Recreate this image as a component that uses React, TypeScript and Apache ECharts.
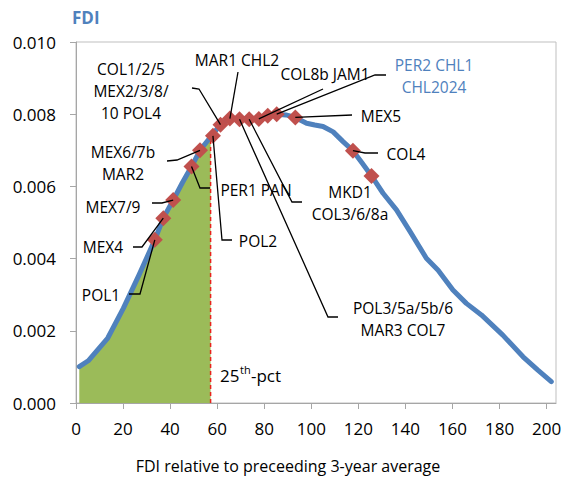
import { useEffect, useRef } from 'react';
import * as echarts from 'echarts';

// Density curve of FDI relative to the preceding 3-year average
const curveX = [1.4, 5.2, 13.5, 20.1, 26.8, 33.5, 37.1, 41.3, 45.2, 49.1, 52.7, 57.2, 61.4, 65.4, 69.5, 73.6, 77.7, 81.5, 85.3, 89.2, 93.2, 98.0, 101.5, 105.0, 109.3, 113.5, 117.7, 121.6, 125.6, 130.5, 136.2, 141.8, 148.9, 153.9, 160.2, 165.9, 172.3, 181.4, 190.0, 196.3, 202.0];
const curveY = [0.00101, 0.00117, 0.0018, 0.00262, 0.00355, 0.00452, 0.00512, 0.00562, 0.0061, 0.00655, 0.007, 0.00737, 0.00771, 0.00788, 0.00788, 0.00788, 0.00788, 0.00796, 0.008, 0.00798, 0.00791, 0.00775, 0.0077, 0.00766, 0.00751, 0.00724, 0.00699, 0.00665, 0.00629, 0.00581, 0.00535, 0.00477, 0.00401, 0.00368, 0.00313, 0.00276, 0.00244, 0.00188, 0.00128, 0.00091, 0.00059];

// Country episodes placed on the curve
const pointNames = ['POL1', 'MEX4', 'MEX7/9', 'PER1 PAN', 'MEX6/7b\nMAR2', 'POL2', 'COL1/2/5\nMEX2/3/8/\n10 POL4', 'MAR1 CHL2', 'POL3/5a/5b/6\nMAR3 COL7', 'MKD1\nCOL3/6/8a', 'COL8b JAM1', '', 'PER2 CHL1\nCHL2024', 'MEX5', 'COL4', ''];
const pointX = [33.5, 37.1, 41.3, 49.1, 52.7, 58.2, 61.4, 65.4, 69.5, 73.6, 77.7, 81.5, 85.3, 93.2, 117.7, 125.6];
const pointY = [0.00452, 0.00512, 0.00562, 0.00655, 0.007, 0.0074, 0.00771, 0.00788, 0.00786, 0.00786, 0.00787, 0.00796, 0.008, 0.00791, 0.00699, 0.00629];

// 25th percentile of the distribution
const pctX = 57.2;
const pctY = 0.00737;

const xTickValues = [0, 20, 40, 60, 80, 100, 120, 140, 160, 180, 200];

const FONT = '"Open Sans", "Noto Sans", sans-serif';
const BLUE = '#4f81bd';
const RED = '#c0504d';
const GREEN = '#9bbb59';
const AXIS = '#a6a6a6';

// Label placement (pixels): text centre and the leader's bend/end points, from the marker outward
const labelPlacement: { idx: number; cx: number; cy: number; leader: number[][]; color?: string }[] = [
  { idx: 0, cx: 101, cy: 295, leader: [[140, 294], [129, 294]] },
  { idx: 1, cx: 103, cy: 247, leader: [[142, 247], [133, 247]] },
  { idx: 2, cx: 113, cy: 207, leader: [[162, 203], [152, 203]] },
  { idx: 3, cx: 256, cy: 190, leader: [[200, 188], [210, 188]] },
  { idx: 4, cx: 123, cy: 163, leader: [[177, 160], [167, 161]] },
  { idx: 5, cx: 258, cy: 241, leader: [[222, 240], [232, 240]] },
  { idx: 6, cx: 131, cy: 91, leader: [[199, 89], [192, 88]] },
  { idx: 7, cx: 237, cy: 60, leader: [[238, 72]] },
  { idx: 8, cx: 403, cy: 319, leader: [[328, 317], [338, 317]] },
  { idx: 9, cx: 350, cy: 203, leader: [[292, 202], [302, 202]] },
  { idx: 10, cx: 325, cy: 74, leader: [[323, 89]] },
  { idx: 12, cx: 434, cy: 76, leader: [[375, 75], [386, 75]], color: BLUE },
  { idx: 13, cx: 381, cy: 116, leader: [[352, 115]] },
  { idx: 14, cx: 406, cy: 154, leader: [[365, 153], [378, 153]] },
];

export default function App() {
  const ref = useRef<HTMLDivElement>(null);

  useEffect(() => {
    if (!ref.current) return;
    const chart = echarts.init(ref.current, null, { renderer: 'svg' });

    const curve = curveX.map((x, i) => [x, curveY[i]]);
    const shaded = curve.filter((p) => p[0] <= pctX);
    const points = pointX.map((x, i) => ({ value: [x, pointY[i]], name: pointNames[i] }));

    chart.setOption({
      animation: false,
      backgroundColor: '#ffffff',
      textStyle: { fontFamily: FONT },
      title: {
        text: 'FDI',
        left: 72,
        top: 9,
        padding: 0,
        textStyle: { color: BLUE, fontWeight: 'bold', fontSize: 17, fontFamily: FONT },
      },
      grid: {
        left: 76,
        top: 42,
        width: 480,
        height: 361,
        show: true,
        borderColor: '#bfbfbf',
        borderWidth: 1,
        backgroundColor: 'transparent',
      },
      xAxis: {
        type: 'value',
        min: 0,
        max: 204,
        interval: 20,
        axisLine: { onZero: false, lineStyle: { color: AXIS, width: 1 } },
        axisTick: { show: true, length: 6, lineStyle: { color: AXIS }, customValues: xTickValues },
        axisLabel: {
          customValues: xTickValues,
          color: '#000',
          fontSize: 17,
          fontFamily: FONT,
          margin: 17,
          formatter: (v: number) => (v > 200 ? '' : String(v)),
        },
        splitLine: { show: false },
      },
      yAxis: {
        type: 'value',
        min: 0,
        max: 0.01,
        interval: 0.002,
        axisLine: { show: true, lineStyle: { color: AXIS, width: 1 } },
        axisTick: { show: true, length: 6, lineStyle: { color: AXIS } },
        axisLabel: {
          color: '#000',
          fontSize: 17,
          fontFamily: FONT,
          margin: 20,
          formatter: (v: number) => v.toFixed(3),
        },
        splitLine: { show: false },
      },
      series: [
        {
          type: 'line',
          data: shaded,
          symbol: 'none',
          lineStyle: { width: 0 },
          areaStyle: { color: GREEN, opacity: 1 },
          z: 1,
        },
        {
          type: 'line',
          data: [[pctX, 0], [pctX, pctY]],
          symbol: 'none',
          lineStyle: { color: '#e8231b', width: 1.5, type: [4, 3] },
          z: 2,
        },
        {
          type: 'line',
          data: curve,
          symbol: 'none',
          lineStyle: { color: BLUE, width: 5, cap: 'round', join: 'round' },
          z: 3,
        },
        {
          type: 'scatter',
          data: points,
          symbol: 'diamond',
          symbolSize: 16,
          itemStyle: { color: RED, opacity: 1 },
          z: 4,
        },
      ],
    });

    const graphics: any[] = [];
    labelPlacement.forEach((lp) => {
      const px = chart.convertToPixel({ gridIndex: 0 }, [pointX[lp.idx], pointY[lp.idx]]) as number[];
      graphics.push({
        type: 'polyline',
        z: 100,
        silent: true,
        shape: { points: [px, ...lp.leader] },
        style: { stroke: '#000', lineWidth: 1.3, fill: 'none' },
      });
      graphics.push({
        type: 'text',
        z: 101,
        x: lp.cx,
        y: lp.cy,
        style: {
          text: pointNames[lp.idx],
          fill: lp.color || '#000',
          fontSize: 15.5,
          fontFamily: FONT,
          align: 'center',
          verticalAlign: 'middle',
          textAlign: 'center',
          textVerticalAlign: 'middle',
          lineHeight: 22,
        },
      });
    });

    // percentile caption next to the dashed line
    const base = { fill: '#000', fontFamily: FONT, verticalAlign: 'middle', textVerticalAlign: 'middle', align: 'left', textAlign: 'left' };
    graphics.push({ type: 'text', z: 101, x: 220, y: 375, style: { ...base, text: '25', fontSize: 17 } });
    graphics.push({ type: 'text', z: 101, x: 240, y: 369, style: { ...base, text: 'th', fontSize: 11 } });
    graphics.push({ type: 'text', z: 101, x: 251, y: 375, style: { ...base, text: '-pct', fontSize: 17 } });

    // axis title
    graphics.push({
      type: 'text',
      z: 101,
      x: 288,
      y: 466,
      style: { text: 'FDI relative to preceeding 3-year average', fill: '#000', fontSize: 16, fontFamily: FONT, align: 'center', textAlign: 'center', verticalAlign: 'middle', textVerticalAlign: 'middle' },
    });

    chart.setOption({ graphic: graphics });

    return () => chart.dispose();
  }, []);

  return <div ref={ref} style={{ position: 'fixed', left: 0, top: 0, width: 568, height: 479 }} />;
}
